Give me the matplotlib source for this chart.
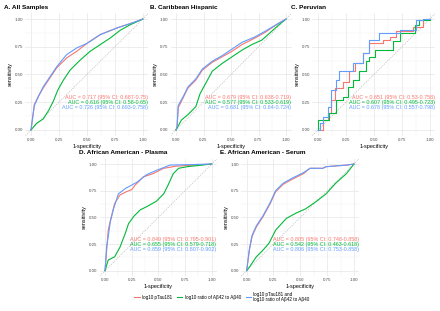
import matplotlib
matplotlib.use("Agg")
import matplotlib.pyplot as plt
from matplotlib.lines import Line2D
from matplotlib.ticker import MultipleLocator

plt.rcParams['font.family'] = ['Liberation Sans', 'DejaVu Sans']

# Colours (ggplot defaults for 3 groups)
COLORS = ['#F8766D', '#00BA38', '#619CFF']
SERIES = ['log10 pTau181', 'log10 ratio of A\u03b242 to A\u03b240',
          'log10 pTau181 and\nlog10 ratio of A\u03b242 to A\u03b240']

# ---- A. All Samples (1-specificity, sensitivity) ----
a_red_x = [0, 0.03, 0.07, 0.11, 0.17, 0.23, 0.27, 0.32, 0.41, 0.50, 0.62, 0.77, 0.92, 1.0]
a_red_y = [0, 0.23, 0.31, 0.38, 0.47, 0.56, 0.60, 0.65, 0.71, 0.78, 0.86, 0.92, 0.97, 1.0]
a_grn_x = [0, 0.05, 0.11, 0.16, 0.20, 0.24, 0.29, 0.35, 0.44, 0.53, 0.62, 0.71, 0.80, 0.89, 1.0]
a_grn_y = [0, 0.06, 0.10, 0.18, 0.26, 0.36, 0.45, 0.54, 0.63, 0.71, 0.77, 0.83, 0.90, 0.95, 1.0]
a_blu_x = [0, 0.03, 0.07, 0.11, 0.17, 0.23, 0.27, 0.32, 0.41, 0.50, 0.62, 0.77, 0.92, 1.0]
a_blu_y = [0, 0.22, 0.31, 0.39, 0.48, 0.57, 0.62, 0.68, 0.74, 0.78, 0.86, 0.92, 0.97, 1.0]

# ---- B. Caribbean Hispanic ----
b_red_x = [0, 0.01, 0.02, 0.07, 0.11, 0.18, 0.24, 0.33, 0.42, 0.51, 0.60, 0.72, 0.81, 0.93, 1.0]
b_red_y = [0, 0.03, 0.20, 0.30, 0.38, 0.45, 0.54, 0.61, 0.66, 0.71, 0.77, 0.83, 0.88, 0.96, 1.0]
b_grn_x = [0, 0.05, 0.11, 0.18, 0.22, 0.27, 0.33, 0.42, 0.51, 0.60, 0.69, 0.78, 0.87, 0.95, 1.0]
b_grn_y = [0, 0.09, 0.14, 0.21, 0.33, 0.42, 0.53, 0.60, 0.66, 0.72, 0.77, 0.81, 0.89, 0.96, 1.0]
b_blu_x = [0, 0.01, 0.02, 0.07, 0.11, 0.18, 0.24, 0.33, 0.42, 0.51, 0.60, 0.72, 0.81, 0.93, 1.0]
b_blu_y = [0, 0.03, 0.22, 0.31, 0.39, 0.46, 0.55, 0.62, 0.67, 0.73, 0.79, 0.84, 0.89, 0.96, 1.0]

# ---- C. Peruvian (step curves) ----
c_red_x = [0, 0.045, 0.09, 0.12, 0.15, 0.22, 0.28, 0.33, 0.40, 0.46, 0.58, 0.64, 0.70, 0.85, 0.94, 1.0]
c_red_y = [0, 0.09, 0.15, 0.27, 0.38, 0.43, 0.53, 0.60, 0.69, 0.78, 0.81, 0.84, 0.89, 0.93, 1.0, 1.0]
c_grn_x = [0, 0, 0.10, 0.16, 0.22, 0.27, 0.31, 0.37, 0.43, 0.46, 0.51, 0.67, 0.73, 0.87, 0.90, 1.0]
c_grn_y = [0, 0.09, 0.15, 0.27, 0.30, 0.39, 0.45, 0.53, 0.62, 0.66, 0.72, 0.80, 0.87, 0.95, 0.99, 1.0]
c_blu_x = [0, 0.015, 0.045, 0.09, 0.12, 0.16, 0.19, 0.31, 0.40, 0.46, 0.55, 0.73, 0.88, 0.94, 1.0]
c_blu_y = [0, 0.06, 0.12, 0.21, 0.36, 0.45, 0.53, 0.60, 0.69, 0.81, 0.87, 0.90, 0.99, 1.0, 1.0]

# ---- D. African American - Plasma ----
d_red_x = [0, 0.015, 0.03, 0.05, 0.09, 0.14, 0.20, 0.25, 0.28, 0.36, 0.45, 0.55, 0.67, 0.83, 1.0]
d_red_y = [0, 0.19, 0.38, 0.47, 0.63, 0.71, 0.74, 0.76, 0.80, 0.88, 0.91, 0.96, 0.98, 0.99, 1.0]
d_grn_x = [0, 0.03, 0.09, 0.14, 0.19, 0.22, 0.27, 0.33, 0.39, 0.48, 0.55, 0.59, 0.64, 0.69, 0.77, 1.0]
d_grn_y = [0, 0.10, 0.13, 0.22, 0.35, 0.44, 0.51, 0.57, 0.60, 0.65, 0.72, 0.80, 0.91, 0.96, 0.975, 1.0]
d_blu_x = [0, 0.015, 0.05, 0.08, 0.125, 0.19, 0.30, 0.39, 0.48, 0.61, 1.0]
d_blu_y = [0, 0.22, 0.46, 0.58, 0.72, 0.77, 0.83, 0.90, 0.94, 0.99, 1.0]

# ---- E. African American - Serum ----
e_red_x = [0, 0.025, 0.05, 0.09, 0.155, 0.22, 0.27, 0.34, 0.43, 0.53, 0.59, 0.71, 0.74, 0.93, 1.0]
e_red_y = [0, 0.19, 0.32, 0.41, 0.51, 0.63, 0.74, 0.81, 0.86, 0.91, 0.96, 0.96, 0.975, 0.99, 1.0]
e_grn_x = [0, 0.03, 0.09, 0.15, 0.21, 0.27, 0.37, 0.46, 0.55, 0.65, 0.74, 0.83, 0.93, 1.0]
e_grn_y = [0, 0.04, 0.13, 0.19, 0.26, 0.38, 0.49, 0.54, 0.58, 0.65, 0.72, 0.82, 0.91, 1.0]
e_blu_x = [0, 0.025, 0.05, 0.09, 0.155, 0.22, 0.27, 0.34, 0.43, 0.53, 0.59, 0.71, 0.74, 0.93, 1.0]
e_blu_y = [0, 0.20, 0.33, 0.42, 0.52, 0.64, 0.75, 0.82, 0.87, 0.92, 0.96, 0.96, 0.975, 0.99, 1.0]

auc_a = ['AUC = 0.717 (95% CI: 0.687-0.75)', 'AUC = 0.616 (95% CI: 0.58-0.65)',
         'AUC = 0.726 (95% CI: 0.693-0.758)']
auc_b = ['AUC = 0.679 (95% CI: 0.638-0.719)', 'AUC = 0.577 (95% CI: 0.533-0.619)',
         'AUC = 0.681 (95% CI: 0.64-0.724)']
auc_c = ['AUC = 0.651 (95% CI: 0.53-0.758)', 'AUC = 0.607 (95% CI: 0.495-0.723)',
         'AUC = 0.678 (95% CI: 0.557-0.798)']
auc_d = ['AUC = 0.849 (95% CI: 0.795-0.901)', 'AUC = 0.655 (95% CI: 0.579-0.718)',
         'AUC = 0.859 (95% CI: 0.807-0.902)']
auc_e = ['AUC = 0.805 (95% CI: 0.748-0.858)', 'AUC = 0.542 (95% CI: 0.463-0.618)',
         'AUC = 0.806 (95% CI: 0.753-0.858)']

W, H = 440, 311
fig = plt.figure(figsize=(W / 100, H / 100), dpi=100)


def add_panel(left, top, width, height, title, curves, aucs, steps=False):
    # pixel box -> figure fraction
    ax = fig.add_axes([left / W, 1 - (top + height) / H, width / W, height / H])
    ax.set_xlim(-0.05, 1.05)
    ax.set_ylim(-0.05, 1.05)
    ax.xaxis.set_major_locator(MultipleLocator(0.25))
    ax.yaxis.set_major_locator(MultipleLocator(0.25))
    ax.xaxis.set_minor_locator(MultipleLocator(0.125))
    ax.yaxis.set_minor_locator(MultipleLocator(0.125))
    ax.xaxis.set_major_formatter(lambda v, p: f'{v:.2f}')
    ax.yaxis.set_major_formatter(lambda v, p: f'{v:.2f}')
    ax.grid(True, which='major', color='#E6E6E6', lw=0.5)
    ax.grid(True, which='minor', color='#F0F0F0', lw=0.3)
    ax.set_axisbelow(True)
    for s in ax.spines.values():
        s.set_visible(False)
    ax.tick_params(which='both', length=0, labelsize=3.2, labelcolor='#4D4D4D', pad=1.5)
    ax.set_xlabel('1-specificity', fontsize=4.0, labelpad=1.5)
    ax.set_ylabel('sensitivity', fontsize=4.0, labelpad=1.5)
    ax.axline((0, 0), slope=1, color='#BEBEBE', lw=0.55, ls=(0, (1.5, 1.5)))
    for (xs, ys), col in zip(curves, COLORS):
        ax.plot(xs, ys, color=col, lw=0.8, drawstyle='steps-post' if steps else 'default')
    for i, (txt, col) in enumerate(zip(aucs, COLORS)):
        ax.text(1.045, 0.29 - 0.045 * i, txt, color=col, fontsize=3.9,
                ha='right', va='center')
    fig.text((left - 21) / W, 1 - (top - 6) / H, title, fontsize=4.6,
             fontweight='bold', ha='left', va='center')
    return ax


add_panel(25.4, 13.5, 123, 122, 'A. All Samples',
          [(a_red_x, a_red_y), (a_grn_x, a_grn_y), (a_blu_x, a_blu_y)], auc_a)
add_panel(170.5, 13.5, 121, 122, 'B. Caribbean Hispanic',
          [(b_red_x, b_red_y), (b_grn_x, b_grn_y), (b_blu_x, b_blu_y)], auc_b)
add_panel(312.4, 13.5, 123, 122, 'C. Peruvian',
          [(c_red_x, c_red_y), (c_grn_x, c_grn_y), (c_blu_x, c_blu_y)], auc_c, steps=True)
add_panel(99.7, 158.7, 117.3, 117.3, 'D. African American - Plasma',
          [(d_red_x, d_red_y), (d_grn_x, d_grn_y), (d_blu_x, d_blu_y)], auc_d)
add_panel(241.3, 158.7, 118, 117.3, 'E. African American - Serum',
          [(e_red_x, e_red_y), (e_grn_x, e_grn_y), (e_blu_x, e_blu_y)], auc_e)

handles = [Line2D([], [], color=c, lw=0.8) for c in COLORS]
fig.legend(handles, SERIES, loc='center', bbox_to_anchor=(222 / W, 1 - 297 / H),
           ncol=3, frameon=False, fontsize=3.3, handlelength=1.2, handletextpad=0.5,
           columnspacing=1.0)

fig.savefig('out.png', dpi=100, facecolor='white')
